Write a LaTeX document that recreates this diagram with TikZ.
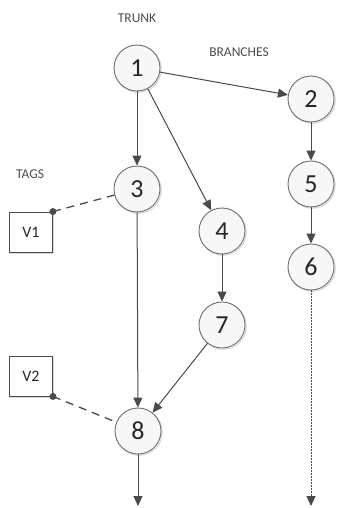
\documentclass[tikz,border=0pt]{standalone}
\usepackage{fontspec}
\setmainfont{Carlito}
\usetikzlibrary{arrows.meta}
\definecolor{edge}{HTML}{4A4A4A}
\definecolor{revfill}{HTML}{F7F7F7}
\definecolor{shade}{HTML}{D8D8D8}
\tikzset{
  rev/.style={circle, draw=edge!80, line width=0.9pt, minimum size=46pt, inner sep=0pt,
    fill=revfill, font=\fontsize{26}{26}\selectfont, text=black!85,
    preaction={draw=shade, line width=1.2pt, transform canvas={shift={(1.2pt,-1.2pt)}}}},
  tagbox/.style={draw=edge, line width=0.9pt, minimum width=43pt, minimum height=40pt,
    fill=white, font=\fontsize{16}{16}\selectfont, inner sep=0pt, text=black!85,
    preaction={draw=shade, line width=1.2pt, transform canvas={shift={(1.2pt,-1.2pt)}}}},
  lbl/.style={font=\fontsize{13.5}{13.5}\selectfont, text=black!70},
  flow/.style={draw=edge, line width=1pt, -{Triangle[length=10pt,width=9pt]}},
  taglink/.style={draw=edge, line width=1.3pt, dash pattern=on 8pt off 6pt},
  tagdot/.style={circle, fill=edge, inner sep=0pt, minimum size=7pt}
}
\begin{document}
\begin{tikzpicture}[x=1pt,y=-1pt]
\useasboundingbox (0,0) rectangle (337,508);
% section labels
\node[lbl] (trunk) at (137,18) {TRUNK};
\node[lbl] (branches) at (239,52) {BRANCHES};
\node[lbl] (tags) at (30,174) {TAGS};
% revisions
\node[rev] (n1) at (137,68) {1};
\node[rev] (n2) at (311,99) {2};
\node[rev] (n3) at (137,189) {3};
\node[rev] (n5) at (311,184) {5};
\node[rev] (n4) at (222,231) {4};
\node[rev] (n6) at (311,267) {6};
\node[rev] (n7) at (222,325) {7};
\node[rev] (n8) at (138,431) {8};
% tags
\node[tagbox] (v1) at (31,232) {V1};
\node[tagbox] (v2) at (31,376) {V2};
\coordinate (end8) at (138,506);
\coordinate (end6) at (311,506);
% history edges
\draw[flow] (n1) -- (n3);
\draw[flow] (n1) -- (n2);
\draw[flow] (n1) -- (n4);
\draw[flow] (n2) -- (n5);
\draw[flow] (n5) -- (n6);
\draw[flow] (n4) -- (n7);
\draw[flow] (n3) -- (n8);
\draw[flow] (n7) -- (n8);
\draw[flow] (n8) -- (end8);
\draw[flow, dash pattern=on 2pt off 1pt] (n6) -- (end6);
% tag links
\draw[taglink] (v1.north east) -- (n3);
\draw[taglink] (v2.south east) -- (n8);
\node[tagdot] (d1) at (v1.north east) {};
\node[tagdot] (d2) at (v2.south east) {};
\end{tikzpicture}
\end{document}
